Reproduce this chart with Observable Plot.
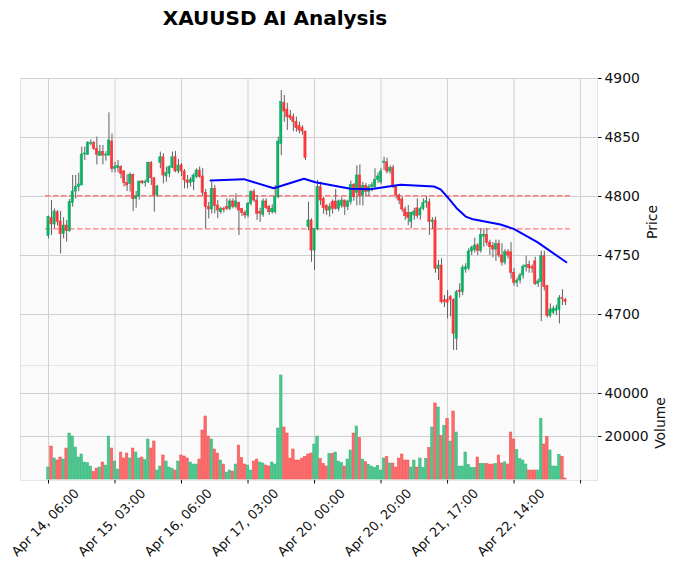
<!DOCTYPE html>
<html><head><meta charset="utf-8">
<script src="https://cdn.jsdelivr.net/npm/d3@7"></script>
<script src="https://cdn.jsdelivr.net/npm/@observablehq/plot@0.6"></script>
<style>
body{margin:0;background:#fff;}
#wrap{position:relative;width:677px;height:576px;overflow:hidden;font-family:"DejaVu Sans",sans-serif;}
#title{position:absolute;left:0;width:550px;top:6px;text-align:center;font-size:20px;font-weight:bold;line-height:24px;color:#000;z-index:2;}
#price{position:absolute;left:0;top:0;}
#vol{position:absolute;left:0;top:365px;}
</style></head><body>
<div id="wrap"><div id="title">XAUUSD AI Analysis</div><div id="price"></div><div id="vol"></div></div>
<script>
const open = [
4766.4,4781.9,4776.3,4786.7,4778.8,4768.1,4775.4,4770.6,4794.6,4804.2,
4807.9,4809.3,4835.6,4835.3,4844.5,4845.2,4840.4,4834.2,4837.6,4834.7,
4834.7,4846.6,4823.5,4824.0,4824.9,4821.2,4811.3,4810.7,4818.4,4798.0,
4800.0,4812.7,4811.3,4812.1,4828.5,4815.5,4800.8,4828.5,4833.3,4817.0,
4819.2,4824.0,4833.3,4821.2,4826.3,4821.2,4813.6,4811.6,4812.1,4816.4,
4822.0,4817.0,4803.0,4791.0,4789.0,4806.5,4792.4,4786.7,4789.5,4791.0,
4789.5,4795.8,4791.0,4794.6,4789.5,4786.0,4783.9,4793.8,4803.7,4796.6,
4787.0,4784.5,4795.8,4791.0,4786.7,4786.7,4799.4,4844.6,4879.4,4873.7,
4868.6,4867.2,4863.0,4859.6,4857.9,4855.1,4774.0,4779.7,4754.2,4772.0,
4807.9,4798.0,4791.8,4788.1,4795.2,4795.8,4789.5,4792.0,4796.6,4791.0,
4795.2,4809.9,4803.0,4817.8,4800.8,4809.0,4804.0,4807.9,4808.0,4814.1,
4812.0,4828.5,4829.0,4821.2,4824.0,4807.9,4800.8,4797.5,4789.0,4786.0,
4778.3,4783.9,4790.0,4783.9,4789.5,4794.6,4795.0,4778.3,4779.7,4738.7,
4741.5,4712.0,4712.4,4714.7,4712.4,4679.4,4720.3,4719.0,4738.0,4739.0,
4753.4,4754.5,4758.5,4753.7,4766.0,4767.5,4761.0,4757.9,4755.0,4759.6,
4750.0,4744.0,4752.8,4752.8,4735.3,4726.9,4728.8,4733.0,4740.0,4742.0,
4740.0,4745.0,4726.0,4727.4,4749.4,4724.0,4698.6,4701.5,4703.0,4704.0,
4714.0,4712.4];
const high = [
4783.5,4796.6,4789.5,4788.1,4787.3,4782.0,4779.7,4797.5,4817.8,4817.8,
4819.8,4841.8,4841.8,4846.6,4848.0,4846.6,4850.3,4843.2,4843.2,4838.0,
4870.9,4853.1,4829.0,4830.5,4826.0,4822.0,4818.4,4820.1,4819.0,4804.2,
4812.7,4813.5,4814.0,4829.0,4829.5,4816.0,4809.5,4837.6,4836.2,4824.9,
4826.0,4837.6,4838.1,4831.3,4828.0,4822.9,4817.8,4816.0,4819.2,4823.5,
4825.0,4823.5,4806.0,4795.0,4812.0,4809.3,4796.6,4791.0,4791.0,4798.0,
4798.0,4798.0,4802.3,4795.2,4790.0,4788.0,4795.0,4805.0,4806.0,4800.8,
4790.0,4798.0,4798.0,4792.4,4793.0,4809.3,4850.3,4889.8,4885.6,4879.0,
4872.9,4870.0,4867.2,4863.0,4860.0,4855.1,4795.2,4781.0,4772.6,4813.6,
4812.1,4799.0,4793.0,4793.8,4797.0,4805.9,4797.0,4799.0,4797.0,4797.0,
4813.0,4811.0,4826.0,4826.8,4812.0,4811.0,4810.0,4812.0,4823.5,4820.0,
4823.5,4833.3,4832.5,4826.0,4826.3,4809.3,4802.0,4799.4,4791.0,4792.4,
4786.7,4790.0,4798.0,4791.0,4798.0,4800.0,4798.0,4782.0,4782.5,4745.8,
4747.2,4716.0,4720.3,4716.0,4713.3,4720.3,4726.0,4741.5,4743.0,4755.6,
4758.0,4764.7,4760.0,4772.6,4772.6,4772.6,4763.0,4761.0,4763.0,4763.0,
4760.0,4755.0,4755.0,4761.0,4739.0,4731.0,4735.0,4742.0,4749.4,4745.2,
4742.0,4748.6,4730.0,4753.7,4753.7,4724.6,4709.0,4707.0,4708.0,4716.0,
4721.0,4713.5];
const low = [
4764.1,4767.0,4772.6,4775.0,4751.4,4764.1,4761.3,4769.8,4791.0,4798.0,
4804.2,4809.3,4830.5,4834.7,4843.0,4839.0,4826.8,4834.0,4826.8,4830.0,
4834.2,4820.1,4820.0,4820.1,4815.0,4808.0,4804.2,4803.7,4787.3,4790.1,
4797.0,4810.0,4808.0,4811.0,4809.3,4786.7,4799.5,4823.5,4810.7,4812.1,
4816.0,4823.5,4820.1,4819.2,4817.0,4806.5,4806.5,4808.0,4805.0,4815.0,
4815.5,4800.0,4772.6,4781.0,4785.3,4785.3,4781.1,4785.0,4786.0,4788.0,
4788.0,4789.5,4789.5,4766.9,4783.0,4781.0,4782.0,4792.0,4795.0,4779.7,
4778.0,4782.5,4789.0,4784.0,4785.0,4785.0,4798.0,4834.7,4863.0,4856.0,
4864.4,4855.0,4854.5,4853.1,4852.0,4830.5,4771.0,4744.3,4737.3,4771.0,
4792.4,4785.0,4784.0,4782.5,4785.0,4788.5,4787.0,4790.0,4784.0,4788.0,
4793.0,4796.0,4792.0,4792.4,4792.0,4800.0,4800.0,4804.0,4806.0,4811.0,
4810.0,4822.0,4819.2,4819.0,4806.5,4798.0,4793.0,4786.7,4779.7,4775.4,
4772.6,4780.0,4781.0,4780.0,4788.0,4790.0,4767.0,4772.0,4735.0,4728.8,
4709.0,4706.0,4696.3,4698.0,4669.5,4669.5,4714.0,4716.0,4735.0,4737.0,
4750.0,4752.0,4750.0,4752.0,4757.0,4757.9,4750.0,4748.0,4745.0,4748.0,
4741.0,4742.0,4747.0,4730.0,4724.0,4723.0,4726.0,4730.0,4736.0,4735.0,
4735.0,4724.5,4723.0,4694.0,4720.0,4697.0,4697.0,4700.0,4699.0,4692.0,
4707.6,4707.6];
const close = [
4782.5,4776.3,4787.3,4778.3,4768.1,4775.4,4770.6,4795.2,4804.2,4807.9,
4810.2,4835.6,4836.5,4845.2,4845.5,4840.4,4835.3,4837.6,4834.7,4835.5,
4847.5,4823.5,4824.9,4825.7,4819.2,4811.3,4809.3,4818.4,4798.0,4800.0,
4812.7,4811.3,4812.1,4828.5,4815.5,4800.8,4808.5,4833.3,4817.8,4820.1,
4824.9,4833.3,4821.2,4826.3,4821.2,4813.6,4811.6,4814.0,4817.8,4822.0,
4816.4,4803.0,4791.0,4789.0,4806.5,4791.8,4788.1,4789.5,4788.5,4789.5,
4795.8,4791.0,4795.8,4788.1,4786.0,4783.9,4793.8,4803.7,4796.6,4785.3,
4785.5,4795.8,4790.1,4786.7,4789.5,4799.4,4846.6,4880.0,4872.0,4867.2,
4866.4,4863.0,4857.9,4855.9,4855.1,4832.5,4779.7,4754.2,4772.6,4807.9,
4796.6,4790.1,4788.1,4791.0,4789.5,4789.5,4795.8,4796.6,4791.0,4795.8,
4809.9,4799.4,4817.8,4800.8,4809.0,4804.0,4807.9,4809.5,4814.1,4817.0,
4821.2,4829.5,4821.2,4824.0,4807.9,4800.8,4796.6,4789.0,4783.3,4782.0,
4786.1,4787.3,4783.3,4789.5,4794.6,4796.0,4778.3,4779.7,4738.7,4741.5,
4710.4,4710.4,4710.0,4712.4,4683.6,4718.9,4719.0,4739.3,4740.0,4753.4,
4756.2,4758.5,4753.7,4767.5,4767.5,4760.8,4757.0,4755.1,4759.6,4750.0,
4744.0,4752.8,4750.0,4735.3,4726.9,4728.8,4733.0,4740.1,4741.5,4739.3,
4739.0,4726.0,4728.0,4749.4,4723.2,4698.6,4704.2,4704.9,4705.0,4713.8,
4713.3,4710.5];
const volume = [
5580,15345,9765,8835,10230,9300,14415,21390,19995,14880,
10230,11625,7905,7595,6000,3565,5115,5580,7905,6500,
19995,14415,8370,4650,12555,9765,12090,9765,14415,12555,
9765,10230,9000,18600,14415,17670,4185,6045,11160,8370,
5580,5000,4185,8370,11160,10695,9765,7905,6975,6975,
9300,22785,29295,20000,18600,13950,12090,8835,6975,3255,
4185,3720,6975,15810,10000,6975,6510,4185,8370,9300,
7905,7440,6510,6045,7905,7000,23715,48360,24180,21390,
9765,13950,8835,8835,9765,10500,11625,12090,16275,19995,
9610,7285,6045,11935,11935,12555,8370,7750,6045,9300,
13485,21390,24645,19375,9300,8060,6820,6045,5425,6355,
4185,9765,10540,7440,7440,5580,9765,11625,8835,8835,
5580,8835,5580,9765,5425,9610,14725,24180,35340,33480,
20305,25000,28210,17670,31620,21855,6045,6045,12555,6820,
5425,5425,10230,7285,7285,7285,6975,6975,7285,11160,
7500,8000,7000,21855,18600,13795,9455,8835,6975,4185,
4185,4185,4185,28210,16275,19840,13485,6045,6045,11470,
10540,465];
const maIdx = [53.6,64.6,74.5,84.5,88.3,99.9,106.5,116.4,127.5,129.7,132.0,135.2,138.0,140.0,149.5,153.9,161.7,171.3];
const maVal = [4813.6,4814.7,4807.0,4815.0,4812.1,4806.5,4806.2,4809.9,4808.5,4806.0,4799.4,4789.6,4783.0,4781.0,4776.3,4772.6,4761.3,4744.3];
const levels = [4800.6, 4772.6];
const priceTicks = [4700, 4750, 4800, 4850, 4900];
const volumeTicks = [20000, 40000];
const tickIdx = [0, 22, 44, 66, 88, 110, 132, 154, 176];
const tickLabels = ["Apr 14, 06:00","Apr 15, 03:00","Apr 16, 06:00","Apr 17, 03:00","Apr 20, 00:00","Apr 20, 20:00","Apr 21, 17:00","Apr 22, 14:00"];

const n = open.length;
const rows = open.map((o, i) => ({
  i, o, h: high[i], l: low[i], c: close[i], v: volume[i],
  up: close[i] >= o,
  vup: i === 0 ? close[i] >= o : close[i] >= close[i - 1]
}));
const maRows = maIdx.map((x, k) => ({x, y: maVal[k]}));
const levelRows = levels.map(y => ({y, x1: -1, x2: n + 0.7}));

const UP = "#00b060", DOWN = "#fe3032";
const VUP = "#4dc790", VDOWN = "#fd6b6c";
const xDomain = [-9.26, 181.6];
const baseStyle = {fontFamily: "DejaVu Sans", fontSize: "13.9px", color: "#101010", background: "transparent", overflow: "visible"};
const gridColor = "#d0d0d0";

const price = Plot.plot({
  width: 677, height: 365,
  marginLeft: 20, marginRight: 80, marginTop: 78, marginBottom: 0,
  x: {domain: xDomain, axis: null},
  y: {domain: [4656.8, 4900], axis: null},
  style: baseStyle,
  marks: [
    Plot.frame({fill: "#fafafa", stroke: "#e6e6e6"}),
    Plot.gridX(tickIdx, {stroke: gridColor, strokeOpacity: 1}),
    Plot.gridY(priceTicks, {stroke: gridColor, strokeOpacity: 1}),
    Plot.axisY(priceTicks, {anchor: "right", label: null, tickSize: 3.5, tickPadding: 3.5, tickFormat: d => String(d), fontSize: 13.9}),
    Plot.ruleY(levelRows, {y: "y", x1: "x1", x2: "x2", stroke: "#fd7d7d", strokeWidth: 1.4, strokeDasharray: "5.5,2.5"}),
    Plot.ruleX(rows, {x: "i", y1: "l", y2: "h", stroke: "#606060", strokeWidth: 1}),
    Plot.rect(rows, {x1: d => d.i - 0.36, x2: d => d.i + 0.36, y1: "o", y2: "c",
      fill: d => d.up ? UP : DOWN, stroke: d => d.up ? UP : DOWN, strokeWidth: 0.6, fillOpacity: 0.9}),
    Plot.line(maRows, {x: "x", y: "y", stroke: "#0000ff", strokeWidth: 2}),
    Plot.text(["Price"], {frameAnchor: "right", dx: 55, rotate: -90, textAnchor: "middle", fontSize: 13.9})
  ]
});
document.getElementById("price").appendChild(price);

const vol = Plot.plot({
  width: 677, height: 211,
  marginLeft: 20, marginRight: 80, marginTop: 0, marginBottom: 96,
  x: {domain: xDomain, axis: null},
  y: {domain: [-450, 53000], axis: null},
  style: baseStyle,
  marks: [
    Plot.frame({fill: "#fafafa", stroke: "#e6e6e6"}),
    Plot.gridX(tickIdx, {stroke: gridColor, strokeOpacity: 1}),
    Plot.gridY(volumeTicks, {stroke: gridColor, strokeOpacity: 1}),
    Plot.axisY(volumeTicks, {anchor: "right", label: null, tickSize: 3.5, tickPadding: 3.5, tickFormat: d => String(d), fontSize: 13.9}),
    Plot.axisX(tickIdx, {anchor: "bottom", label: null, tickSize: 3.5, tickFormat: () => ""}),
    Plot.rect(rows, {x1: d => d.i - 0.42, x2: d => d.i + 0.42, y1: 0, y2: "v",
      fill: d => d.vup ? VUP : VDOWN, stroke: d => d.vup ? "#2fb374" : "#f04a4c", strokeWidth: 0.5}),
    Plot.text(tickLabels, {x: (d, k) => tickIdx[k], frameAnchor: "bottom", dy: 45, rotate: -45, textAnchor: "middle", fontSize: 13}),
    Plot.text(["Volume"], {frameAnchor: "right", dx: 63, rotate: -90, textAnchor: "middle", fontSize: 13.9})
  ]
});
document.getElementById("vol").appendChild(vol);
</script>
</body></html>
